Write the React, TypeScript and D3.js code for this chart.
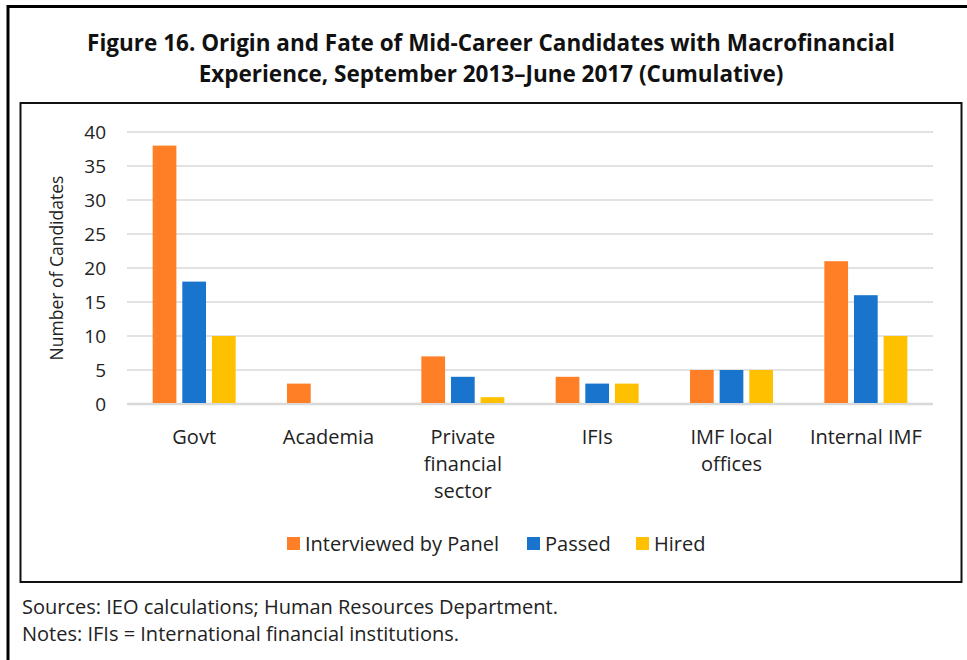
import React from "react";
import * as d3 from "d3";

const categories = [["Govt"], ["Academia"], ["Private", "financial", "sector"], ["IFIs"], ["IMF local", "offices"], ["Internal IMF"]];
const seriesNames = ["Interviewed by Panel", "Passed", "Hired"];
const interviewed = [38, 3, 7, 4, 5, 21];
const passed = [18, 0, 4, 3, 5, 16];
const hired = [10, 0, 1, 3, 5, 10];
const yTicks = [0, 5, 10, 15, 20, 25, 30, 35, 40];
const colors = ["#FF7F27", "#1874CD", "#FFC000"];
const titleLines = [
  "Figure 16. Origin and Fate of Mid-Career Candidates with Macrofinancial",
  "Experience, September 2013\u2013June 2017 (Cumulative)",
];
const notes = ["Sources: IEO calculations; Human Resources Department.", "Notes: IFIs = International financial institutions."];

const FONT = "'Open Sans', 'Noto Sans', sans-serif";

export default function App() {
  const W = 967, H = 660;
  const left = 127, right = 933, top = 132, bottom = 404;
  const series = [interviewed, passed, hired];
  const x = d3.scaleBand<number>().domain(d3.range(categories.length)).range([left, right]).paddingInner(0).paddingOuter(0);
  const y = d3.scaleLinear().domain([0, 40]).range([bottom, top]);
  const inner = d3.scaleBand<number>().domain([0, 1, 2]).range([0, 83]).paddingInner(0.2);
  const groupOffset = (x.bandwidth() - 83) / 2;

  const legendX = [287, 527, 636];

  return (
    <svg width={W} height={H} style={{ position: "absolute", left: 0, top: 0 }} fontFamily={FONT}>
      <rect x={0} y={0} width={W} height={H} fill="#fff" />
      {/* outer frame */}
      <path d={`M8,${H + 5} V6.5 H${W + 5}`} fill="none" stroke="#000" strokeWidth={3} />
      {/* inner box */}
      <rect x={20.5} y={103} width={941} height={479} fill="none" stroke="#111" strokeWidth={2} />
      {titleLines.map((t, i) => (
        <text key={i} x={491} y={51 + i * 31} textAnchor="middle" fontWeight="bold" fontSize={22.5} fill="#111">
          {t}
        </text>
      ))}
      {/* gridlines */}
      {yTicks.map((t) => (
        <line key={t} x1={left} x2={right} y1={y(t)} y2={y(t)} stroke="#D9D9D9" strokeWidth={t === 0 ? 2.5 : 1.3} />
      ))}
      {yTicks.map((t) => (
        <text key={"l" + t} x={106} y={y(t) + 7} textAnchor="end" fontSize={19} fill="#222">
          {t}
        </text>
      ))}
      <text transform={`translate(63,268) rotate(-90)`} textAnchor="middle" fontSize={17.5} fill="#222">
        Number of Candidates
      </text>
      {/* bars */}
      {series.map((s, si) =>
        s.map((v, ci) => {
          if (v === 0) return null;
          const bx = (x(ci) as number) + groupOffset + (inner(si) as number);
          return (
            <rect key={si + "-" + ci} x={bx} y={y(v)} width={inner.bandwidth()} height={bottom - y(v) - 1} fill={colors[si]} />
          );
        })
      )}
      {/* category labels */}
      {categories.map((lines, ci) => (
        <text key={ci} x={(x(ci) as number) + x.bandwidth() / 2} textAnchor="middle" fontSize={20} fill="#222">
          {lines.map((l, li) => (
            <tspan key={li} x={(x(ci) as number) + x.bandwidth() / 2} y={444 + li * 27}>
              {l}
            </tspan>
          ))}
        </text>
      ))}
      {/* legend */}
      {seriesNames.map((n, i) => (
        <g key={n}>
          <rect x={legendX[i]} y={537} width={13} height={13} fill={colors[i]} />
          <text x={legendX[i] + 18} y={551} fontSize={20} fill="#222">
            {n}
          </text>
        </g>
      ))}
      {notes.map((n, i) => (
        <text key={i} x={22} y={614 + i * 27} fontSize={20} fill="#222">
          {n}
        </text>
      ))}
    </svg>
  );
}
